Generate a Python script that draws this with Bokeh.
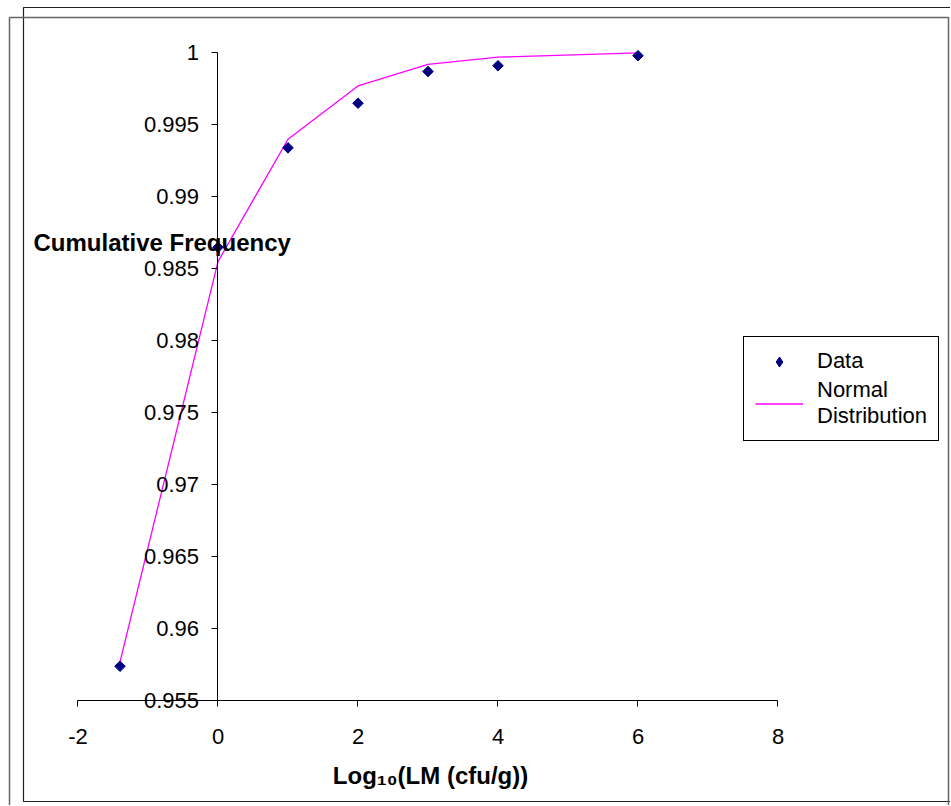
from bokeh.plotting import figure
from bokeh.models import (FixedTicker, NumeralTickFormatter, Legend, LegendItem,
                          Label, BoxAnnotation, Range1d)
from bokeh.embed import file_html
from bokeh.resources import INLINE

# ---- data ----
x_data = [-1.4, 0, 1, 2, 3, 4, 6]
y_data = [0.9574, 0.9865, 0.9934, 0.9965, 0.9987, 0.9991, 0.9998]
x_norm = [-1.4, 0, 1, 2, 3, 4, 6]
y_norm = [0.9577, 0.9855, 0.9940, 0.9977, 0.9992, 0.9997, 1.0]
x_ticks = [-2, 0, 2, 4, 6, 8]
y_ticks = [0.955, 0.96, 0.965, 0.97, 0.975, 0.98, 0.985, 0.99, 0.995, 1.0]
x_title = "Log\u2081\u2080(LM (cfu/g))"
y_title = "Cumulative Frequency"
series_names = ["Data", "Normal\nDistribution"]

FONT = "Liberation Sans"
W, H = 950, 805

# the plotting frame covers the whole canvas; axes are placed at fixed locations
p = figure(width=W, height=H, output_backend="svg", toolbar_location=None,
           x_range=Range1d(-3.1071, 10.4643), y_range=Range1d(0.947729, 1.003632),
           min_border=0, min_border_left=0, min_border_right=0,
           min_border_top=0, min_border_bottom=0)
p.outline_line_color = None
p.xgrid.visible = False
p.ygrid.visible = False
p.background_fill_color = "white"
p.border_fill_color = "white"

# axes
p.xaxis.ticker = FixedTicker(ticks=x_ticks)
p.xaxis.formatter = NumeralTickFormatter(format="0")
p.yaxis.ticker = FixedTicker(ticks=y_ticks)
p.yaxis.formatter = NumeralTickFormatter(format="0.[000]")
p.xaxis.fixed_location = 0.955
p.yaxis.fixed_location = 0
p.xaxis.bounds = (-2, 8)
p.yaxis.bounds = (0.955, 1.0)
for ax in (p.xaxis, p.yaxis):
    ax.axis_line_color = "black"
    ax.major_tick_line_color = "black"
    ax.minor_tick_line_color = None
    ax.major_tick_in = 0
    ax.major_tick_out = 6
    ax.major_label_text_font = FONT
    ax.major_label_text_font_size = "22px"
    ax.major_label_text_color = "black"
p.xaxis.major_label_standoff = 22
p.yaxis.major_label_standoff = 13

# series
ln = p.line(x_norm, y_norm, line_color="#FF00FF", line_width=1.3)
sc = p.scatter(x_data, y_data, marker="square", angle=0.785398, size=7.5,
               fill_color="#000080", line_color="#000080")
# legend swatch for the data markers: a diamond hidden inside the first marker
sc_key = p.scatter(x=x_data[:1], y=y_data[:1], marker="diamond", size=8,
                   fill_color="#000080", line_color="#000080")

# titles
p.add_layout(Label(x=-2.636, y=0.98683, text=y_title,
                   text_font=FONT, text_font_style="bold", text_font_size="24px",
                   text_color="black", text_baseline="middle"))
p.add_layout(Label(x=3.036, y=0.949812, text=x_title, text_align="center",
                   text_font=FONT, text_font_style="bold", text_font_size="24px",
                   text_color="black", text_baseline="middle"))

legend = Legend(items=[LegendItem(label=series_names[0], renderers=[sc_key]),
                       LegendItem(label=series_names[1], renderers=[ln])],
                location=(743, 364), border_line_color="black", border_line_width=1,
                border_line_alpha=1,
                label_text_font=FONT, label_text_font_size="22px",
                label_text_line_height=1.1, label_text_color="black",
                glyph_width=48, glyph_height=25, label_standoff=14,
                padding=11, spacing=3, margin=0, background_fill_alpha=1)
p.add_layout(legend, "center")

# outer chart frames (screen units: from frame left / frame bottom)
p.add_layout(BoxAnnotation(left=23, right=970, top=H - 7, bottom=H - 801,
                           left_units="screen", right_units="screen",
                           top_units="screen", bottom_units="screen",
                           fill_alpha=0, line_color="#222222", line_alpha=1,
                           line_width=1.2))
p.add_layout(BoxAnnotation(left=9, right=948, top=H - 17, bottom=-20,
                           left_units="screen", right_units="screen",
                           top_units="screen", bottom_units="screen",
                           fill_alpha=0, line_color="#666666", line_alpha=1,
                           line_width=1.5))

open("out.html", "w").write(file_html(p, INLINE))
